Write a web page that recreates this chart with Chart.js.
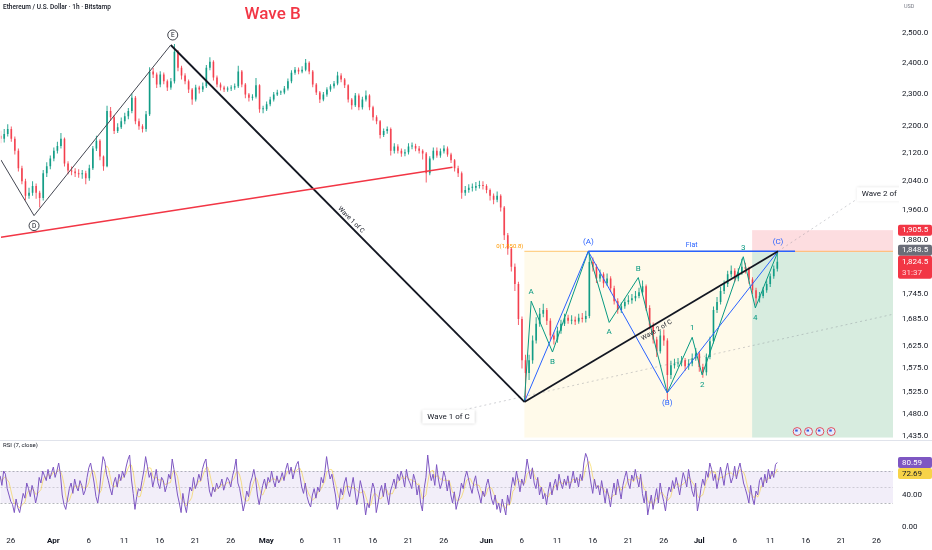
<!DOCTYPE html>
<html lang="en">
<head>
<meta charset="utf-8">
<title>Ethereum / U.S. Dollar · 1h · Bitstamp</title>
<script src="https://cdn.jsdelivr.net/npm/chart.js"></script>
<style>
    html, body { margin: 0; padding: 0; background: #ffffff; }
    .board { position: relative; width: 932px; height: 550px; overflow: hidden; }
    .pane { position: absolute; left: 0; width: 932px; }
    #pricePane { top: 0; height: 440px; }
    #rsiPane { top: 440px; height: 110px; }
</style>
</head>
<body>
<div class="board">
    <div class="pane" id="pricePane"><canvas id="priceChart"></canvas></div>
    <div class="pane" id="rsiPane"><canvas id="rsiChart"></canvas></div>
</div>

<script>
    // ---- axis ticks (day 0 = Apr 1) ----
    const xTickDays   = [-6, 0, 5, 10, 15, 20, 25, 30, 35, 40, 45, 50, 55, 61, 66, 71, 76, 81, 86, 91, 96, 101, 106, 111, 116];
    const xTickLabels = ['26', 'Apr', '6', '11', '16', '21', '26', 'May', '6', '11', '16', '21', '26', 'Jun', '6', '11', '16', '21', '26', 'Jul', '6', '11', '16', '21', '26'];
    const monthLabels = ['Apr', 'May', 'Jun', 'Jul'];
    const priceTicks  = [2500, 2400, 2300, 2200, 2120, 2040, 1960, 1880, 1745, 1685, 1625, 1575, 1525, 1480, 1435];
    const rsiTicks    = [0, 40, 80];

    // ---- ETH/USD, 12h candles ----
    const firstCandleDay = -7.5;
    const candleStep = 0.5;
    const firstOpen = 2170;
    const closes = [
        2161, 2175, 2190, 2161, 2126, 2075, 2038, 1998, 2006, 2025,
        2006, 1992, 2061, 2081, 2103, 2126, 2140, 2161, 2089, 2069,
        2066, 2061, 2058, 2061, 2047, 2075, 2132, 2155, 2109, 2081,
        2245, 2226, 2184, 2196, 2214, 2229, 2245, 2287, 2214, 2199,
        2190, 2235, 2371, 2361, 2329, 2361, 2339, 2319, 2339, 2436,
        2383, 2358, 2339, 2313, 2281, 2319, 2313, 2323, 2383, 2403,
        2351, 2329, 2319, 2313, 2316, 2319, 2323, 2371, 2329, 2297,
        2287, 2290, 2326, 2251, 2251, 2266, 2281, 2297, 2303, 2303,
        2316, 2339, 2367, 2377, 2371, 2377, 2400, 2371, 2329, 2303,
        2281, 2297, 2313, 2323, 2332, 2358, 2345, 2326, 2281, 2263,
        2294, 2257, 2281, 2294, 2257, 2226, 2214, 2172, 2184, 2190,
        2126, 2138, 2126, 2118, 2121, 2138, 2140, 2132, 2126, 2118,
        2061, 2103, 2126, 2112, 2124, 2132, 2115, 2098, 2075, 2061,
        2006, 2014, 2020, 2020, 2025, 2028, 2025, 2014, 1998, 1987,
        1998, 1966, 1892, 1857, 1812, 1769, 1686, 1593, 1565, 1593,
        1637, 1675, 1698, 1707, 1682, 1648, 1639, 1659, 1675, 1689,
        1682, 1684, 1680, 1689, 1686, 1693, 1824, 1812, 1783, 1793,
        1771, 1783, 1759, 1728, 1707, 1716, 1726, 1730, 1735, 1740,
        1749, 1764, 1712, 1671, 1639, 1613, 1648, 1637, 1561, 1582,
        1586, 1588, 1593, 1580, 1586, 1597, 1608, 1578, 1567, 1600,
        1635, 1707, 1726, 1752, 1769, 1793, 1802, 1783, 1798, 1812,
        1807, 1780, 1754, 1735, 1740, 1754, 1769, 1788, 1807, 1824.5
    ];
    const highs = [
        2185, 2190, 2205, 2198, 2168, 2132, 2082, 2045, 2020, 2038,
        2032, 2012, 2070, 2092, 2112, 2135, 2152, 2178, 2165, 2095,
        2080, 2075, 2072, 2070, 2068, 2085, 2140, 2170, 2160, 2112,
        2262, 2258, 2232, 2208, 2225, 2240, 2255, 2300, 2292, 2222,
        2205, 2245, 2385, 2382, 2368, 2372, 2368, 2345, 2350, 2462,
        2442, 2390, 2365, 2345, 2318, 2328, 2325, 2335, 2392, 2418,
        2408, 2358, 2335, 2325, 2322, 2326, 2332, 2390, 2376, 2334,
        2302, 2298, 2350, 2330, 2262, 2275, 2290, 2305, 2312, 2310,
        2324, 2348, 2375, 2386, 2384, 2388, 2412, 2405, 2376, 2334,
        2308, 2305, 2320, 2330, 2340, 2370, 2365, 2350, 2330, 2286,
        2302, 2300, 2290, 2310, 2298, 2262, 2232, 2218, 2192, 2198,
        2195, 2148, 2145, 2132, 2130, 2148, 2150, 2146, 2140, 2130,
        2122, 2110, 2135, 2135, 2132, 2142, 2138, 2120, 2102, 2082,
        2066, 2025, 2030, 2032, 2036, 2040, 2038, 2030, 2018, 2004,
        2010, 2002, 1970, 1898, 1862, 1820, 1775, 1692, 1605, 1605,
        1648, 1690, 1712, 1722, 1712, 1688, 1655, 1668, 1684, 1698,
        1696, 1695, 1692, 1698, 1700, 1705, 1848, 1835, 1818, 1805,
        1798, 1795, 1788, 1765, 1735, 1725, 1735, 1742, 1745, 1752,
        1760, 1778, 1768, 1718, 1678, 1645, 1660, 1662, 1642, 1592,
        1596, 1598, 1602, 1598, 1595, 1608, 1620, 1612, 1585, 1608,
        1645, 1715, 1738, 1762, 1778, 1802, 1815, 1808, 1808, 1832,
        1822, 1812, 1786, 1760, 1750, 1762, 1778, 1795, 1815, 1848.5
    ];
    const lows = [
        2148, 2150, 2168, 2152, 2115, 2066, 2030, 1985, 1990, 1998,
        1990, 1966, 1985, 2050, 2072, 2095, 2118, 2132, 2080, 2058,
        2055, 2050, 2048, 2045, 2030, 2040, 2070, 2125, 2098, 2068,
        2078, 2215, 2175, 2178, 2190, 2205, 2220, 2238, 2205, 2188,
        2180, 2182, 2230, 2350, 2318, 2320, 2330, 2308, 2312, 2332,
        2372, 2345, 2330, 2302, 2265, 2275, 2300, 2305, 2318, 2375,
        2342, 2320, 2310, 2305, 2306, 2308, 2312, 2318, 2320, 2285,
        2275, 2278, 2284, 2240, 2238, 2245, 2260, 2275, 2292, 2295,
        2298, 2310, 2333, 2360, 2362, 2365, 2372, 2362, 2320, 2295,
        2270, 2276, 2290, 2306, 2316, 2326, 2336, 2318, 2272, 2250,
        2258, 2248, 2250, 2275, 2248, 2216, 2205, 2162, 2166, 2176,
        2112, 2118, 2118, 2108, 2110, 2115, 2130, 2124, 2118, 2100,
        2035, 2055, 2098, 2105, 2105, 2118, 2108, 2090, 2066, 2050,
        1990, 1998, 2006, 2010, 2012, 2018, 2015, 2005, 1985, 1975,
        1980, 1955, 1880, 1842, 1800, 1752, 1672, 1575, 1505, 1550,
        1585, 1630, 1668, 1690, 1672, 1638, 1628, 1632, 1652, 1670,
        1675, 1674, 1672, 1675, 1678, 1678, 1688, 1800, 1772, 1775,
        1760, 1765, 1750, 1720, 1698, 1700, 1710, 1720, 1722, 1728,
        1735, 1742, 1705, 1662, 1630, 1600, 1608, 1625, 1508, 1552,
        1575, 1578, 1580, 1570, 1572, 1580, 1592, 1568, 1555, 1560,
        1595, 1630, 1700, 1720, 1745, 1762, 1785, 1775, 1776, 1792,
        1795, 1770, 1745, 1718, 1725, 1735, 1748, 1762, 1782, 1800
    ];

    // ---- RSI (7, close), 6h samples ending at the last candle ----
    const rsiStep = 0.25;
    const rsiValues = [
        58, 64, 52, 70, 66, 48, 40, 32, 28, 18, 35, 24, 18, 30, 42, 36, 55, 48, 38, 52,
        44, 30, 40, 62, 55, 70, 64, 58, 72, 60, 68, 75, 62, 70, 80, 66, 40, 28, 22, 35,
        48, 55, 42, 60, 50, 45, 58, 52, 40, 46, 62, 74, 80, 68, 55, 38, 30, 45, 70, 88,
        82, 66, 58, 48, 40, 55, 62, 50, 66, 58, 70, 62, 75, 84, 90, 60, 42, 22, 38, 48,
        45, 58, 70, 88, 76, 62, 68, 50, 60, 72, 55, 48, 62, 58, 44, 52, 66, 60, 85, 72,
        55, 40, 30, 18, 42, 28, 18, 35, 50, 45, 62, 48, 55, 66, 58, 72, 80, 85, 62, 45,
        38, 50, 44, 55, 48, 52, 60, 46, 54, 62, 58, 50, 64, 72, 85, 55, 48, 35, 20, 30,
        45, 38, 55, 62, 72, 60, 40, 28, 40, 52, 60, 48, 62, 56, 70, 58, 50, 64, 55, 60,
        68, 58, 72, 80, 66, 75, 60, 70, 78, 82, 64, 50, 42, 55, 38, 30, 25, 40, 48, 36,
        50, 44, 62, 55, 68, 88, 72, 60, 66, 52, 40, 22, 30, 48, 40, 55, 62, 46, 38, 50,
        62, 45, 28, 40, 58, 48, 35, 15, 30, 24, 42, 55, 48, 18, 30, 44, 52, 38, 55, 40,
        28, 45, 52, 60, 48, 66, 58, 70, 62, 50, 72, 60, 55, 48, 66, 58, 40, 52, 30, 20,
        48, 62, 90, 70, 58, 66, 52, 78, 60, 48, 55, 70, 62, 45, 58, 40, 30, 44, 22, 32,
        40, 55, 48, 62, 70, 60, 50, 42, 56, 64, 48, 40, 30, 45, 38, 52, 60, 48, 35, 28,
        40, 22, 30, 18, 35, 25, 15, 40, 28, 48, 62, 52, 70, 58, 44, 60, 52, 66, 85, 72,
        60, 74, 55, 48, 62, 40, 50, 35, 42, 28, 45, 56, 40, 52, 60, 46, 66, 55, 48, 60,
        52, 64, 48, 58, 70, 55, 62, 50, 66, 58, 80, 92, 86, 70, 55, 42, 60, 48, 52, 40,
        58, 45, 30, 48, 38, 25, 42, 55, 40, 60, 48, 35, 52, 62, 70, 55, 48, 65, 58, 72,
        60, 50, 66, 42, 30, 45, 15, 28, 40, 22, 36, 48, 30, 55, 42, 32, 20, 38, 50, 44,
        58, 48, 62, 52, 40, 55, 68, 60, 50, 72, 58, 45, 38, 55, 20, 32, 48, 60, 52, 70,
        62, 80, 72, 58, 66, 48, 60, 75, 64, 52, 70, 80, 66, 55, 62, 76, 60, 72, 80, 68,
        55, 48, 40, 30, 52, 36, 28, 45, 40, 58, 62, 50, 66, 55, 72, 60, 70, 62, 78, 80.59
    ];
    const rsiMaLength = 4;
    const rsiMaLast = 72.69;

    // ---- drawings: [day, price] ----
    const pivotPreD = [-7.46, 2099];
    const pivotD    = [-2.79, 1944];
    const pivotE    = [16.48, 2459];
    const pivotW1   = [66.34, 1504];
    const pivotC    = [102.1, 1850.8];
    const redTrend  = [[-7.46, 1887], [56.2, 2078]];
    const abcDays   = [66.34, 75.35, 86.48, 102.1];
    const abcPrices = [1504, 1850.8, 1523, 1850.8];
    const abcLabels = ['', '(A)', '(B)', '(C)'];
    const subDays   = [66.34, 67.3, 70.3, 75.35, 78.3, 82.4, 86.48, 90.0, 91.4, 97.2, 98.9, 102.1];
    const subPrices = [1504, 1728, 1611, 1850.8, 1678, 1785, 1523, 1644, 1561, 1837, 1712, 1850.8];
    const subLabels = ['', 'A', 'B', '', 'A', 'B', '', '1', '2', '3', '4', ''];
    const flatEndDay = 104.5;
    const fibLevel = 1850.8;
    const wave2Target = [114.1, 2000];
    const faintLow = [[54.5, 1477], [118.3, 1697]];
    const entryPrice = 1848.5, stopPrice = 1905.5, targetPrice = 1432, lastPrice = 1824.5;
    const positionStartDay = 98.45;
    const eventDays = [104.8, 106.4, 108.0, 109.6];
    const waveBNote = [30.85, 2563];
    const wave1Note = [55.2, 1474];
    const wave2Note = [113.2, 2002];

    // pixel calibration of the screenshot
    const VIEW = { dayZeroX: 53, pxPerDay: 7.1, refPrice: 2500, refY: 33, pxPerLn: 726, rsiZeroY: 87, pxPerRsi: 0.8 };
    const UP = '#089981', DOWN = '#f23645', INK = '#131722', BLUE = '#2962ff', GREEN = '#089981';
    Chart.defaults.font.family = 'Roboto, "Liberation Sans", sans-serif';

    const opens = closes.map((c, i) => i === 0 ? firstOpen : closes[i - 1]);
    const candleDays = closes.map((c, i) => firstCandleDay + i * candleStep);
    const candleColors = closes.map((c, i) => c >= opens[i] ? 'rgba(8,153,129,0.85)' : 'rgba(242,54,69,0.8)');
    const lastCandleDay = candleDays[candleDays.length - 1];
    const rsiDays = rsiValues.map((v, j) => lastCandleDay - (rsiValues.length - 1 - j) * rsiStep);
    const rsiMa = rsiValues.map((v, j) => {
        const from = Math.max(0, j - rsiMaLength + 1);
        const win = rsiValues.slice(from, j + 1);
        return win.reduce((s, a) => s + a, 0) / win.length;
    });

    function pts(list) { return list.map(p => ({ x: p[0], y: p[1] })); }
    function seg(points, color, width, dash) {
        return { type: 'line', data: pts(points), borderColor: color, borderWidth: width, borderDash: dash || [],
                 pointRadius: 0, fill: false, tension: 0, order: 1 };
    }
    function fmtPrice(v) { return v.toLocaleString('en-US', { minimumFractionDigits: 1, maximumFractionDigits: 1 }); }

    function drawText(ctx, str, x, y, size, color, align, weight) {
        ctx.font = (weight || 'normal') + ' ' + size + 'px Roboto, "Liberation Sans", sans-serif';
        ctx.fillStyle = color;
        ctx.textAlign = align || 'center';
        ctx.textBaseline = 'middle';
        ctx.fillText(str, x, y);
    }
    function tag(ctx, x, y, h, bg, fg, lines) {
        ctx.fillStyle = bg;
        ctx.beginPath();
        ctx.roundRect(x, y - h / 2, 932 - x, h, 2);
        ctx.fill();
        lines.forEach((s, k) => drawText(ctx, s, x + 4, y + k * 11, 8, fg, 'left'));
    }
    function labelBox(ctx, str, x, y) {
        ctx.font = '8px Roboto, "Liberation Sans", sans-serif';
        const w = ctx.measureText(str).width + 10;
        ctx.save();
        ctx.shadowColor = 'rgba(0,0,0,0.18)';
        ctx.shadowBlur = 3;
        ctx.fillStyle = '#ffffff';
        ctx.fillRect(x, y - 7, w, 14);
        ctx.restore();
        drawText(ctx, str, x + 5, y, 8, INK, 'left');
        return w;
    }
    function lineText(ctx, x, y, a, b, t, off, str) {
        const x0 = x.getPixelForValue(a[0]), y0 = y.getPixelForValue(a[1]);
        const x1 = x.getPixelForValue(b[0]), y1 = y.getPixelForValue(b[1]);
        ctx.save();
        ctx.translate(x0 + (x1 - x0) * t, y0 + (y1 - y0) * t);
        ctx.rotate(Math.atan2(y1 - y0, x1 - x0));
        drawText(ctx, str, 0, off, 6.5, INK, 'center');
        ctx.restore();
    }
    function pivotLabels(ctx, x, y, days, prices, labels, color, size) {
        labels.forEach((s, i) => {
            if (!s) return;
            const isHigh = prices[i] > prices[i - 1];
            drawText(ctx, s, x.getPixelForValue(days[i]), y.getPixelForValue(prices[i]) + (isHigh ? -9 : 10), size, color);
        });
    }
    function circled(ctx, str, px, py) {
        ctx.strokeStyle = INK;
        ctx.lineWidth = 0.8;
        ctx.beginPath();
        ctx.arc(px, py, 5, 0, Math.PI * 2);
        ctx.stroke();
        drawText(ctx, str, px, py + 0.5, 6.5, INK);
    }

    const priceDrawings = {
        id: 'priceDrawings',
        beforeDatasetsDraw(chart) {
            const { ctx, chartArea: a, scales: { x, y } } = chart;
            const yBottom = y.getPixelForValue(targetPrice);
            const xPos = x.getPixelForValue(positionStartDay);
            ctx.save();
            ctx.beginPath();
            ctx.rect(a.left, 0, a.right - a.left, chart.height);
            ctx.clip();
            ctx.fillStyle = 'rgba(255,236,179,0.28)';
            ctx.fillRect(x.getPixelForValue(pivotW1[0]), y.getPixelForValue(fibLevel), xPos - x.getPixelForValue(pivotW1[0]), yBottom - y.getPixelForValue(fibLevel));
            ctx.fillStyle = 'rgba(242,54,69,0.17)';
            ctx.fillRect(xPos, y.getPixelForValue(stopPrice), a.right - xPos, y.getPixelForValue(entryPrice) - y.getPixelForValue(stopPrice));
            ctx.fillStyle = 'rgba(56,158,96,0.2)';
            ctx.fillRect(xPos, y.getPixelForValue(entryPrice), a.right - xPos, yBottom - y.getPixelForValue(entryPrice));
            ctx.strokeStyle = 'rgba(255,152,0,0.55)';
            ctx.lineWidth = 1;
            ctx.beginPath();
            ctx.moveTo(x.getPixelForValue(pivotW1[0]), y.getPixelForValue(fibLevel));
            ctx.lineTo(a.right, y.getPixelForValue(fibLevel));
            ctx.stroke();
            ctx.restore();
        },
        afterDatasetsDraw(chart) {
            const { ctx, chartArea: a, scales: { x, y } } = chart;
            ctx.save();
            ctx.beginPath();
            ctx.rect(a.left, 0, a.right - a.left + 6, chart.height);
            ctx.clip();
            drawText(ctx, 'Wave B', x.getPixelForValue(waveBNote[0]), y.getPixelForValue(waveBNote[1]), 17, DOWN, 'center', '500');
            circled(ctx, 'D', x.getPixelForValue(pivotD[0]), y.getPixelForValue(pivotD[1]) + 10);
            circled(ctx, 'E', x.getPixelForValue(pivotE[0]) + 2, y.getPixelForValue(pivotE[1]) - 10);
            lineText(ctx, x, y, pivotE, pivotW1, 0.5, -5, 'Wave 1 of C');
            lineText(ctx, x, y, pivotW1, pivotC, 0.51, 6, 'Wave 2 of C');
            pivotLabels(ctx, x, y, subDays, subPrices, subLabels, GREEN, 8);
            pivotLabels(ctx, x, y, abcDays, abcPrices, abcLabels, BLUE, 8);
            const flatMid = (x.getPixelForValue(abcDays[1]) + x.getPixelForValue(flatEndDay)) / 2;
            drawText(ctx, 'Flat', flatMid, y.getPixelForValue(fibLevel) - 6, 7, BLUE);
            drawText(ctx, '0(1,850.8)', x.getPixelForValue(pivotW1[0]) - 1, y.getPixelForValue(fibLevel) - 5, 6, '#ff9800', 'right');
            const w1 = 46;
            labelBox(ctx, 'Wave 1 of C', x.getPixelForValue(wave1Note[0]) - w1 / 2, y.getPixelForValue(wave1Note[1]));
            labelBox(ctx, 'Wave 2 of C', x.getPixelForValue(wave2Note[0]), y.getPixelForValue(wave2Note[1]));
            const yEv = y.getPixelForValue(targetPrice) - 6;
            eventDays.forEach(d => {
                const px = x.getPixelForValue(d);
                ctx.fillStyle = '#e3ecff';
                ctx.strokeStyle = '#e04e5a';
                ctx.lineWidth = 1;
                ctx.beginPath();
                ctx.arc(px, yEv, 4, 0, Math.PI * 2);
                ctx.fill();
                ctx.stroke();
                ctx.fillStyle = '#3a5bd9';
                ctx.fillRect(px - 2, yEv - 2, 2.5, 2);
            });
            ctx.restore();
        },
        afterDraw(chart) {
            const { ctx, chartArea: a, scales: { y } } = chart;
            ctx.save();
            drawText(ctx, 'Ethereum / U.S. Dollar · 1h · Bitstamp', 3, 7, 6.5, INK, 'left', '500');
            drawText(ctx, 'USD', 904, 7, 5.5, '#787b86', 'left');
            const xt = a.right + 5;
            tag(ctx, xt, y.getPixelForValue(stopPrice), 11, '#f23645', '#ffffff', [fmtPrice(stopPrice)]);
            tag(ctx, xt, y.getPixelForValue(entryPrice) - 2, 11, '#6a6d78', '#ffffff', [fmtPrice(entryPrice)]);
            const yl = y.getPixelForValue(lastPrice);
            ctx.fillStyle = '#f23645';
            ctx.beginPath();
            ctx.roundRect(xt, yl - 6, 932 - xt, 23, 2);
            ctx.fill();
            drawText(ctx, fmtPrice(lastPrice), xt + 4, yl, 8, '#ffffff', 'left');
            drawText(ctx, '31:37', xt + 4, yl + 11, 8, '#ffd5d8', 'left');
            ctx.restore();
        }
    };

    const priceChart = new Chart(document.getElementById('priceChart'), {
        type: 'bar',
        data: {
            datasets: [
                { type: 'bar', data: candleDays.map((d, i) => ({ x: d, y: [lows[i], highs[i]] })),
                  backgroundColor: candleColors, barThickness: 1, grouped: false, inflateAmount: 0, borderWidth: 0, order: 3 },
                { type: 'bar', data: candleDays.map((d, i) => ({ x: d, y: [opens[i], closes[i]] })),
                  backgroundColor: candleColors, barThickness: 1.7, minBarLength: 1, grouped: false, inflateAmount: 0, borderWidth: 0, order: 2 },
                seg(redTrend, '#f23645', 1.5),
                seg([pivotPreD, pivotD, pivotE], '#434651', 1),
                seg([pivotE, pivotW1], INK, 1.8),
                seg([pivotW1, pivotC], INK, 1.8),
                seg(faintLow, 'rgba(120,123,134,0.35)', 1, [2, 3]),
                seg([pivotC, wave2Target], 'rgba(120,123,134,0.35)', 1, [2, 3]),
                seg(abcDays.map((d, i) => [d, abcPrices[i]]), BLUE, 1),
                seg([[abcDays[1], fibLevel], [flatEndDay, fibLevel]], BLUE, 1.5),
                seg(subDays.map((d, i) => [d, subPrices[i]]), GREEN, 1)
            ]
        },
        options: {
            responsive: true, maintainAspectRatio: false, animation: false, events: [],
            layout: { padding: { right: 3 } },
            plugins: { legend: { display: false }, tooltip: { enabled: false } },
            scales: {
                x: { type: 'linear', min: -7.46, max: 118.3, offset: false, display: false },
                y: {
                    type: 'logarithmic', position: 'right', min: 1427, max: 2616, beginAtZero: false,
                    grid: { display: false, drawTicks: true, tickLength: 9 }, border: { display: false },
                    afterBuildTicks: s => { s.ticks = priceTicks.map(v => ({ value: v })); },
                    afterFit: s => { s.width = 36; },
                    ticks: { padding: 0, color: INK, font: { size: 8 }, callback: v => fmtPrice(v) }
                }
            }
        },
        plugins: [priceDrawings]
    });

    const rsiDrawings = {
        id: 'rsiDrawings',
        beforeDatasetsDraw(chart) {
            const { ctx, chartArea: a, scales: { y } } = chart;
            ctx.save();
            ctx.fillStyle = 'rgba(126,87,194,0.1)';
            ctx.fillRect(a.left, y.getPixelForValue(70), a.right - a.left, y.getPixelForValue(30) - y.getPixelForValue(70));
            [[70, 0.55], [50, 0.3], [30, 0.55]].forEach(([lvl, alpha]) => {
                ctx.strokeStyle = 'rgba(120,123,134,' + alpha + ')';
                ctx.setLineDash([2, 2]);
                ctx.lineWidth = 1;
                ctx.beginPath();
                ctx.moveTo(a.left, Math.round(y.getPixelForValue(lvl)) + 0.5);
                ctx.lineTo(a.right, Math.round(y.getPixelForValue(lvl)) + 0.5);
                ctx.stroke();
            });
            ctx.restore();
        },
        afterDraw(chart) {
            const { ctx, chartArea: a, scales: { y } } = chart;
            ctx.save();
            ctx.fillStyle = '#e0e3eb';
            ctx.fillRect(0, 0, 932, 1);
            drawText(ctx, 'RSI (7, close)', 3, 5, 6, INK, 'left');
            const xt = a.right + 5;
            const yR = y.getPixelForValue(rsiValues[rsiValues.length - 1]);
            tag(ctx, xt, yR, 11, '#7e57c2', '#ffffff', [rsiValues[rsiValues.length - 1].toFixed(2)]);
            tag(ctx, xt, Math.max(y.getPixelForValue(rsiMaLast), yR + 11), 11, '#f7d348', INK, [rsiMaLast.toFixed(2)]);
            ctx.restore();
        }
    };

    const rsiChart = new Chart(document.getElementById('rsiChart'), {
        type: 'line',
        data: {
            datasets: [
                { data: rsiDays.map((d, j) => ({ x: d, y: rsiMa[j] })), borderColor: 'rgba(247,198,0,0.45)', borderWidth: 1,
                  pointRadius: 0, tension: 0, clip: false, order: 2 },
                { data: rsiDays.map((d, j) => ({ x: d, y: rsiValues[j] })), borderColor: '#7e57c2', borderWidth: 1,
                  pointRadius: 0, tension: 0, clip: false, order: 1 }
            ]
        },
        options: {
            responsive: true, maintainAspectRatio: false, animation: false, events: [],
            layout: { padding: { right: 3 } },
            plugins: { legend: { display: false }, tooltip: { enabled: false } },
            scales: {
                x: {
                    type: 'linear', min: -7.46, max: 118.3, offset: false,
                    grid: { display: false, drawTicks: false }, border: { display: false },
                    afterBuildTicks: s => { s.ticks = xTickDays.map(v => ({ value: v })); },
                    afterFit: s => { s.height = 20; },
                    ticks: {
                        autoSkip: false, maxRotation: 0, padding: 6, color: INK,
                        font: c => ({ size: 8, weight: monthLabels.includes(xTickLabels[c.index]) ? 'bold' : 'normal' }),
                        callback: (v, i) => xTickLabels[i]
                    }
                },
                y: {
                    position: 'right', min: -3.75, max: 108.75,
                    grid: { display: false, drawTicks: true, tickLength: 9 }, border: { display: false },
                    afterBuildTicks: s => { s.ticks = rsiTicks.map(v => ({ value: v })); },
                    afterFit: s => { s.width = 36; },
                    ticks: { padding: 0, color: INK, font: { size: 8 }, callback: v => v.toFixed(2) }
                }
            }
        },
        plugins: [rsiDrawings]
    });

    // line the scales up with the pixel grid of the original screenshot
    function calibrate() {
        [priceChart, rsiChart].forEach(ch => {
            const a = ch.chartArea;
            ch.options.scales.x.min = (a.left - VIEW.dayZeroX) / VIEW.pxPerDay;
            ch.options.scales.x.max = (a.right - VIEW.dayZeroX) / VIEW.pxPerDay;
        });
        const pa = priceChart.chartArea;
        priceChart.options.scales.y.max = VIEW.refPrice * Math.exp((VIEW.refY - pa.top) / VIEW.pxPerLn);
        priceChart.options.scales.y.min = VIEW.refPrice * Math.exp((VIEW.refY - pa.bottom) / VIEW.pxPerLn);
        const ra = rsiChart.chartArea;
        rsiChart.options.scales.y.max = (VIEW.rsiZeroY - ra.top) / VIEW.pxPerRsi;
        rsiChart.options.scales.y.min = (VIEW.rsiZeroY - ra.bottom) / VIEW.pxPerRsi;
        priceChart.update('none');
        rsiChart.update('none');
    }
    calibrate();
</script>
</body>
</html>
